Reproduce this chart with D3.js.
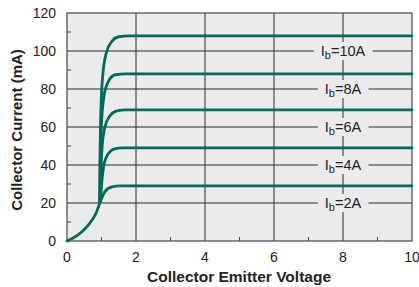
<!DOCTYPE html>
<html>
<head>
<meta charset="utf-8">
<script src="https://cdn.jsdelivr.net/npm/d3@7"></script>
<style>
  body { margin: 0; background: #fff; }
  text { font-family: Arial, "Liberation Sans", sans-serif; }
</style>
</head>
<body>
<div id="chart"></div>
<script>
// chart size and margins
let width = 419
let height = 287
let margin = { top: 13, right: 7, bottom: 46, left: 67 }

// data: each curve as [voltage, current] points
let seriesNames = ["Ib=2A", "Ib=4A", "Ib=6A", "Ib=8A", "Ib=10A"]
let labelBase = ["2A", "4A", "6A", "8A", "10A"]
let labelLevels = [20, 40, 60, 80, 100]
let curve2A = [[0, 0], [0.3, 3], [0.6, 8], [0.85, 15], [0.97, 21], [1.1, 26], [1.3, 28.5], [1.55, 29], [10, 29]]
let curve4A = [[0.97, 21], [1.0, 29], [1.06, 39], [1.18, 45.5], [1.38, 48.5], [1.6, 49], [10, 49]]
let curve6A = [[0.95, 20], [0.975, 34], [1.02, 50], [1.1, 60], [1.25, 66], [1.45, 68.5], [1.7, 69], [10, 69]]
let curve8A = [[0.95, 20], [0.965, 40], [0.995, 60], [1.07, 76], [1.2, 84], [1.4, 87.5], [1.7, 88], [10, 88]]
let curve10A = [[0.95, 20], [0.955, 40], [0.985, 70], [1.04, 88], [1.14, 99], [1.3, 105], [1.5, 107.5], [1.8, 108], [10, 108]]
let curves = [curve2A, curve4A, curve6A, curve8A, curve10A]
let xTicks = [0, 2, 4, 6, 8, 10]
let yTicks = [0, 20, 40, 60, 80, 100, 120]
let xMinor = [1, 3, 5, 7, 9]
let yMinor = [10, 30, 50, 70, 90, 110]

let innerW = width - margin.left - margin.right
let innerH = height - margin.top - margin.bottom

let svg = d3.select("#chart")
    .append("svg")
    .attr("width", width)
    .attr("height", height)

let g = svg.append("g")
    .attr("transform", "translate(" + margin.left + "," + margin.top + ")")

let x = d3.scaleLinear().domain([0, 10]).range([0, innerW])
let y = d3.scaleLinear().domain([0, 120]).range([innerH, 0])

// plot background
g.append("rect")
    .attr("width", innerW)
    .attr("height", innerH)
    .attr("fill", "#ebebed")

// grid lines
g.selectAll(".vgrid")
    .data(xTicks.slice(1, -1))
    .enter()
    .append("line")
    .attr("x1", d => x(d)).attr("x2", d => x(d))
    .attr("y1", 0).attr("y2", innerH)
    .attr("stroke", "#2a2a2a")
    .attr("stroke-width", 1)

g.selectAll(".hgrid")
    .data(yTicks.slice(1, -1))
    .enter()
    .append("line")
    .attr("x1", 0).attr("x2", innerW)
    .attr("y1", d => y(d)).attr("y2", d => y(d))
    .attr("stroke", "#2a2a2a")
    .attr("stroke-width", 1)

// minor ticks inside the frame
g.selectAll(".xminor")
    .data(xMinor)
    .enter()
    .append("line")
    .attr("x1", d => x(d)).attr("x2", d => x(d))
    .attr("y1", innerH).attr("y2", innerH - 4)
    .attr("stroke", "#444")

g.selectAll(".yminor")
    .data(yMinor)
    .enter()
    .append("line")
    .attr("x1", 0).attr("x2", 4)
    .attr("y1", d => y(d)).attr("y2", d => y(d))
    .attr("stroke", "#444")

// frame
g.append("rect")
    .attr("width", innerW)
    .attr("height", innerH)
    .attr("fill", "none")
    .attr("stroke", "#555")
    .attr("stroke-width", 1.3)

// labels on the grid lines at x = 8
let labels = g.selectAll(".lab")
    .data(labelBase)
    .enter()
    .append("g")
    .attr("transform", (d, i) => "translate(" + x(8) + "," + y(labelLevels[i]) + ")")

labels.append("rect")
    .attr("class", "labbg")
    .attr("fill", "#ebebed")

let labText = labels.append("text")
    .attr("text-anchor", "middle")
    .attr("dy", "0.35em")
    .style("font-family", "'Liberation Sans Narrow', 'Arial Narrow', Arial, sans-serif")
    .style("font-size", "14.5px")
    .attr("fill", "#222")
labText.append("tspan").text("I")
labText.append("tspan").attr("dy", "3").style("font-size", "11px").text("b")
labText.append("tspan").attr("dy", "-3").text(d => "=" + d)

labels.each(function () {
    let bb = d3.select(this).select("text").node().getBBox()
    d3.select(this).select("rect")
        .attr("x", bb.x - 7)
        .attr("y", -9)
        .attr("width", bb.width + 14)
        .attr("height", 18)
})

// curves
let line = d3.line()
    .x(d => x(d[0]))
    .y(d => y(d[1]))
    .curve(d3.curveMonotoneX)

g.selectAll(".curve")
    .data(curves)
    .enter()
    .append("path")
    .attr("d", d => line(d))
    .attr("fill", "none")
    .attr("stroke", "#006a5b")
    .attr("stroke-width", 2.8)
    .attr("stroke-linecap", "round")

// tick labels
g.selectAll(".xlab")
    .data(xTicks)
    .enter()
    .append("text")
    .attr("x", d => x(d))
    .attr("y", innerH + 21)
    .attr("text-anchor", "middle")
    .style("font-size", "14px")
    .attr("fill", "#222")
    .text(d => d)

g.selectAll(".ylab")
    .data(yTicks)
    .enter()
    .append("text")
    .attr("x", -11)
    .attr("y", d => y(d))
    .attr("dy", "0.35em")
    .attr("text-anchor", "end")
    .style("font-size", "14px")
    .attr("fill", "#222")
    .text(d => d)

// axis titles
svg.append("text")
    .attr("x", 239)
    .attr("y", 282)
    .attr("text-anchor", "middle")
    .style("font-size", "15.5px")
    .style("font-weight", "bold")
    .attr("fill", "#222")
    .text("Collector Emitter Voltage")

svg.append("text")
    .attr("transform", "translate(22,130) rotate(-90)")
    .attr("text-anchor", "middle")
    .style("font-size", "15px")
    .style("font-weight", "bold")
    .attr("fill", "#222")
    .text("Collector Current (mA)")
</script>
</body>
</html>
